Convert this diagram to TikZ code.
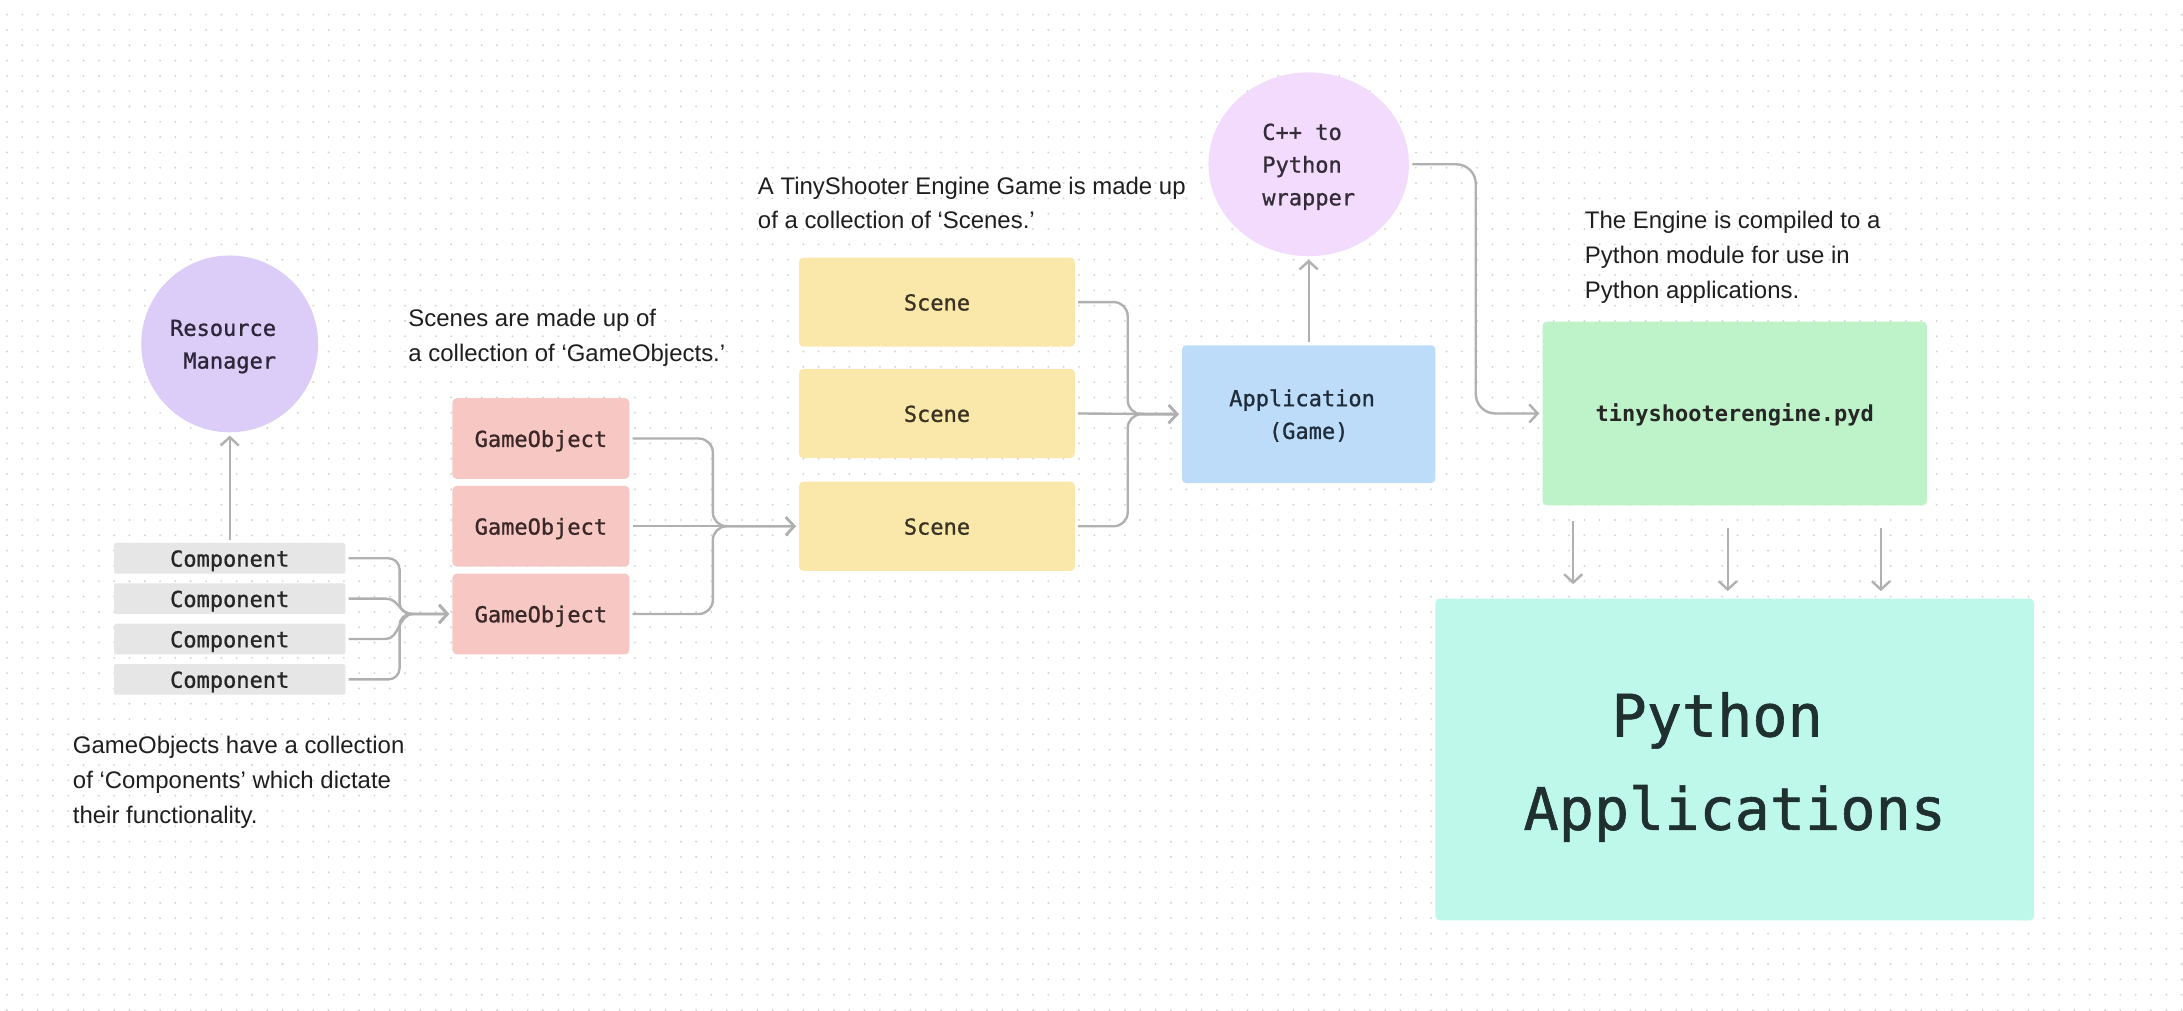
\documentclass[tikz,border=0pt]{standalone}
\usepackage{fontspec}
\setmainfont{Liberation Sans}
\newfontfamily\codefont[FakeBold=1]{DejaVu Sans Mono}
\newfontfamily\codeboldfont[BoldFont={DejaVu Sans Mono Bold}]{DejaVu Sans Mono}
\usetikzlibrary{arrows.meta,shapes.geometric}
\definecolor{dotcol}{HTML}{D2D2D2}
\definecolor{linecol}{HTML}{B0B0B0}
\definecolor{txtcol}{HTML}{262626}
\definecolor{notecol}{HTML}{1E1E1E}
\definecolor{compcol}{HTML}{E6E6E6}
\definecolor{gocol}{HTML}{F7C8C3}
\definecolor{scenecol}{HTML}{FAE8AA}
\definecolor{appcol}{HTML}{BDDCFA}
\definecolor{tsecol}{HTML}{BEF2C9}
\definecolor{pacol}{HTML}{BEF8EB}
\definecolor{rmcol}{HTML}{DCCCF8}
\definecolor{wrcol}{HTML}{F2DBFC}
\definecolor{rmtxt}{HTML}{2C2638}
\definecolor{gotxt}{HTML}{3A2828}
\definecolor{sctxt}{HTML}{3A3222}
\definecolor{apptxt}{HTML}{1F2C3A}
\definecolor{wrtxt}{HTML}{352C3A}
\definecolor{patxt}{HTML}{1F302E}
\newcommand\monosize{\fontsize{7.9}{11.75}\selectfont}
\newcommand\notesize{\fontsize{8.6}{12.5}\selectfont}
\newcommand\lbl[2]{\raisebox{#1}[0pt][0pt]{\begin{tabular}[b]{@{}c@{}}#2\end{tabular}}}
\begin{document}
\begin{tikzpicture}[x=0.5pt,y=-0.5pt,
  griddot/.style={draw=dotcol, line width=0.75pt, line cap=round, dash pattern=on 0pt off 5.5pt},
  box/.style={rectangle, rounded corners=1.5pt, inner sep=0pt, draw=none, font=\codefont\monosize, text=txtcol},
  bubble/.style={ellipse, inner sep=0pt, draw=none, font=\codefont\monosize, text=txtcol},
  conn/.style={draw=linecol, line width=0.85pt, -{Straight Barb[length=3pt,width=6.5pt,line width=0.85pt]}, shorten >=1pt, shorten <=1pt},
  note/.style={anchor=north west, inner sep=0pt, align=left, font=\notesize, text=notecol}]
\useasboundingbox (0,0) rectangle (1568,726);
\fill[white] (0,0) rectangle (1568,726);
\foreach \j in {0,...,65} \draw[griddot] (5,{10.5+11*\j}) -- (1568,{10.5+11*\j});

% nodes
\node[bubble, fill=rmcol, text=rmtxt, minimum width=63.5pt, minimum height=63.5pt] (rm) at (165,247) {\lbl{-8.875pt}{Resource\phantom{n}\\Manager}};
\foreach \i/\y in {1/401,2/430,3/459,4/488}
  \node[box, fill=compcol, rounded corners=0.5pt, minimum width=83pt, minimum height=11pt] (c\i) at (165,\y) {\lbl{-3pt}{Component}};
\foreach \i/\y in {1/315,2/378,3/441}
  \node[box, fill=gocol, text=gotxt, minimum width=63.5pt, minimum height=29pt] (g\i) at (388.5,\y) {\lbl{-3pt}{GameObject}};
\foreach \i/\y in {1/217,2/297,3/378}
  \node[box, fill=scenecol, text=sctxt, minimum width=99pt, minimum height=32pt] (s\i) at (673,\y) {\lbl{-3pt}{Scene}};
\node[box, fill=appcol, text=apptxt, minimum width=91pt, minimum height=49.5pt] (app) at (940,297.5) {\lbl{-8.875pt}{Application\phantom{n}\\(Game)}};
\node[bubble, fill=wrcol, text=wrtxt, minimum width=72pt, minimum height=66pt] (wr) at (940,118) {\lbl{-14.75pt}{C++ to\phantom{n}\\Python\phantom{n}\\wrapper}};
\node[box, fill=tsecol, minimum width=138pt, minimum height=66pt, font=\codeboldfont\bfseries\monosize] (tse) at (1246,297) {\lbl{-3pt}{tinyshooterengine.pyd}};
\node[box, fill=pacol, minimum width=215pt, minimum height=115.5pt, text=patxt, font=\codefont\fontsize{21}{33.5}\selectfont] (pa) at (1246,545.5) {\lbl{-25.25pt}{Python\phantom{n}\\Applications}};

% notes
\node[note] (n1) at (293,221.5) {Scenes are made up of\\a collection of ‘GameObjects.’};
\node[note] (n2) at (544,126.5) {A TinyShooter Engine Game is made up\\of a collection of ‘Scenes.’};
\node[note] (n3) at (1138,151.5) {The Engine is compiled to a\\Python module for use in\\Python applications.};
\node[note] (n4) at (52,528.5) {GameObjects have a collection\\of ‘Components’ which dictate\\their functionality.};

% connectors
\coordinate (mc) at (287,441);
\draw[conn, rounded corners=4pt] (c1.east) -| (mc) -- (g3.west);
\draw[conn] (c2.east) -- (277,430) .. controls (287,430) and (286,441) .. (297,441) -- (g3.west);
\draw[conn] (c3.east) -- (277,459) .. controls (287,459) and (286,441) .. (297,441) -- (g3.west);
\draw[conn, rounded corners=4pt] (c4.east) -| (mc) -- (g3.west);
\draw[conn] (c1.north) -- (rm.south);

\coordinate (mg) at (512,378);
\draw[conn, rounded corners=5pt] (g1.east) -| (mg) -- (s3.west);
\draw[conn] (g2.east) -- (s3.west);
\draw[conn, rounded corners=5pt] (g3.east) -| (mg) -- (s3.west);

\coordinate (ms) at (810,297.5);
\draw[conn, rounded corners=5pt] (s1.east) -| (ms) -- (app.west);
\draw[conn] (s2.east) -- (app.west);
\draw[conn, rounded corners=5pt] (s3.east) -| (ms) -- (app.west);

\draw[conn] (app.north) -- (wr.south);
\coordinate (mw) at (1060,297);
\draw[conn, rounded corners=7pt] (wr.east) -| (mw) -- (tse.west);

\draw[conn, shorten <=5.5pt, shorten >=5pt] ([xshift=-58pt]tse.south) -- ([xshift=-58pt]pa.north);
\draw[conn, shorten <=8pt, shorten >=2.5pt] ([xshift=-2.5pt]tse.south) -- ([xshift=-2.5pt]pa.north);
\draw[conn, shorten <=8pt, shorten >=2.5pt] ([xshift=52.5pt]tse.south) -- ([xshift=52.5pt]pa.north);
\end{tikzpicture}
\end{document}
